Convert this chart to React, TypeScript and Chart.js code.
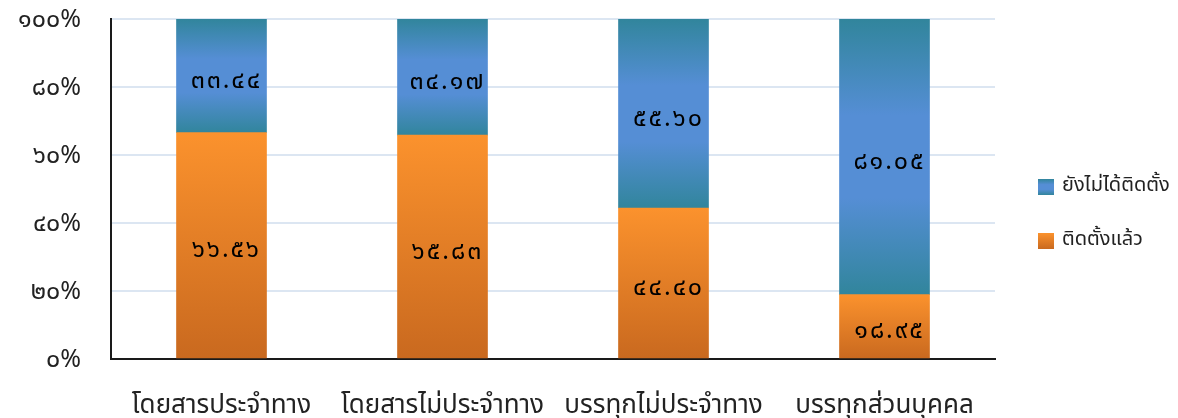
import React, { useEffect, useRef } from "react";
import { Chart, registerables } from "chart.js";

Chart.register(...registerables);

const categories = ["โดยสารประจำทาง", "โดยสารไม่ประจำทาง", "บรรทุกไม่ประจำทาง", "บรรทุกส่วนบุคคล"];
const installed = [66.56, 65.83, 44.4, 18.95];
const notInstalled = [33.44, 34.17, 55.6, 81.05];
const seriesNames = ["ติดตั้งแล้ว", "ยังไม่ได้ติดตั้ง"];
const yTicks = [0, 20, 40, 60, 80, 100];

const FONT = "Tahoma, 'Leelawadee UI', 'Noto Sans Thai', 'Noto Sans', 'DejaVu Sans', sans-serif";
const THAI = "๐๑๒๓๔๕๖๗๘๙";
const toThai = (s: string) => s.replace(/\d/g, (d) => THAI[+d]);

function orangeGrad(ctx: CanvasRenderingContext2D, top: number, bottom: number) {
  const g = ctx.createLinearGradient(0, top, 0, bottom);
  g.addColorStop(0, "#FB922D");
  g.addColorStop(1, "#C9691F");
  return g;
}
function blueGrad(ctx: CanvasRenderingContext2D, top: number, bottom: number) {
  const g = ctx.createLinearGradient(0, top, 0, bottom);
  g.addColorStop(0, "#31859C");
  g.addColorStop(0.35, "#558ED5");
  g.addColorStop(0.65, "#558ED5");
  g.addColorStop(1, "#31859C");
  return g;
}

export default function App() {
  const ref = useRef<HTMLCanvasElement>(null);
  useEffect(() => {
    if (!ref.current) return;
    const segBounds = (c: any, dsIndex: number) => {
      const y = c.chart.scales?.y;
      const i = c.dataIndex;
      if (!y || i === undefined || !c.chart.chartArea) return null;
      const lo = dsIndex === 0 ? 0 : installed[i];
      const hi = dsIndex === 0 ? installed[i] : installed[i] + notInstalled[i];
      const a = y.getPixelForValue(hi);
      const b = y.getPixelForValue(lo);
      if (!isFinite(a) || !isFinite(b) || a === b) return null;
      return [a, b];
    };
    const labelPlugin = {
      id: "valueLabels",
      afterDatasetsDraw(chart: any) {
        const ctx = chart.ctx;
        ctx.save();
        ctx.font = `25px ${FONT}`;
        (ctx as any).letterSpacing = "2px";
        ctx.fillStyle = "#000";
        ctx.textAlign = "center";
        ctx.textBaseline = "middle";
        chart.data.datasets.forEach((ds: any, di: number) => {
          const meta = chart.getDatasetMeta(di);
          meta.data.forEach((el: any, i: number) => {
            const v = ds.data[i] as number;
            ctx.fillText(toThai(v.toFixed(2)), el.x + 5, (el.y + el.base) / 2 + 7);
          });
        });
        ctx.restore();
      },
    };
    const legendPlugin = {
      id: "customLegend",
      afterDraw(chart: any) {
        const ctx = chart.ctx;
        ctx.save();
        ctx.font = `20px ${FONT}`;
        ctx.textBaseline = "middle";
        ctx.textAlign = "left";
        const items = [
          { name: seriesNames[1], grad: blueGrad },
          { name: seriesNames[0], grad: orangeGrad },
        ];
        items.forEach((it, k) => {
          const cy = 187 + k * 54;
          ctx.fillStyle = it.grad(ctx, cy - 8, cy + 8);
          ctx.fillRect(1038, cy - 8, 16, 16);
          ctx.fillStyle = "#222";
          ctx.fillText(it.name, 1062, cy);
        });
        ctx.restore();
      },
    };
    const chart = new Chart(ref.current, {
      type: "bar",
      data: {
        labels: categories,
        datasets: [
          {
            label: seriesNames[0],
            data: installed,
            backgroundColor: (c: any) => {
              const b = segBounds(c, 0);
              if (!b) return "#F08A2A";
              return orangeGrad(c.chart.ctx, b[0], b[1]);
            },
            borderWidth: 0,
            barThickness: 90,
          },
          {
            label: seriesNames[1],
            data: notInstalled,
            backgroundColor: (c: any) => {
              const b = segBounds(c, 1);
              if (!b) return "#558ED5";
              return blueGrad(c.chart.ctx, b[0], b[1]);
            },
            borderWidth: 0,
            barThickness: 90,
          },
        ],
      },
      options: {
        animation: false,
        responsive: false,
        devicePixelRatio: 1,
        layout: { padding: { top: 19, right: 183, left: 0, bottom: 0 } },
        plugins: {
          legend: { display: false },
          tooltip: { enabled: false },
        },
        scales: {
          x: {
            stacked: true,
            grid: { display: false, drawTicks: false },
            border: { color: "#1a1a1a", width: 2 },
            ticks: {
              font: { family: FONT, size: 26 },
              color: "#222",
              padding: 33,
              maxRotation: 0,
              autoSkip: false,
            },
            afterFit: (s: any) => {
              s.height = 59;
              s.paddingLeft = 0;
              s.paddingRight = 0;
            },
          },
          y: {
            stacked: true,
            min: 0,
            max: 100,
            afterBuildTicks: (s: any) => {
              s.ticks = yTicks.map((v) => ({ value: v }));
            },
            grid: { color: "#DCE6F2", lineWidth: 2, drawTicks: false },
            border: { color: "#1a1a1a", width: 2 },
            ticks: {
              font: { family: FONT, size: 25 },
              color: "#222",
              padding: 30,
              labelOffset: 3,
              callback: (v: any) => toThai(String(v)) + "%",
            },
            afterFit: (s: any) => {
              s.width = 111;
              s.paddingTop = 0;
              s.paddingBottom = 0;
            },
          },
        },
      },
      plugins: [labelPlugin, legendPlugin],
    });
    chart.update();
    return () => chart.destroy();
  }, []);
  return (
    <div style={{ position: "fixed", left: 0, top: 0, width: 1178, height: 418, background: "#fff" }}>
      <canvas ref={ref} width={1178} height={418} style={{ width: 1178, height: 418 }} />
    </div>
  );
}
